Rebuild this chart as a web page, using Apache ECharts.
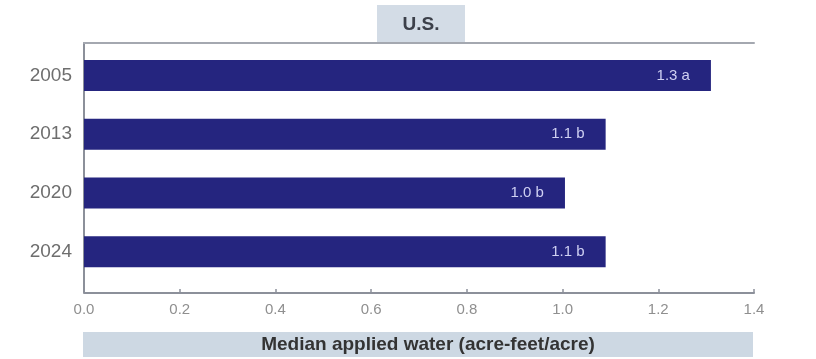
<!DOCTYPE html>
<html>
<head>
<meta charset="utf-8">
<script src="https://cdn.jsdelivr.net/npm/echarts@6/dist/echarts.min.js"></script>
<style>html,body{margin:0;padding:0;background:#fff}#c{width:816px;height:359px}</style>
</head>
<body>
<div id="c"></div>
<script>
const categories = ['2005', '2013', '2020', '2024'];
const values = [1.31, 1.09, 1.005, 1.09];
const valueLabels = ['1.3 a', '1.1 b', '1.0 b', '1.1 b'];
const xTicks = [0, 0.2, 0.4, 0.6, 0.8, 1.0, 1.2, 1.4];
const titleText = 'U.S.';
const axisTitle = 'Median applied water (acre-feet/acre)';

const FONT = '"Liberation Sans", Arial, sans-serif';
const chart = echarts.init(document.getElementById('c'));
chart.setOption({
  animation: false,
  grid: [
    { left: 84, right: 62, top: 46, bottom: 78 },
    { left: 84, right: 62, top: 43, bottom: 67 }
  ],
  xAxis: [
    {
      gridIndex: 0, type: 'value', position: 'bottom', offset: 12,
      min: xTicks[0], max: xTicks[xTicks.length - 1], interval: 0.2,
      axisLine: { show: true, lineStyle: { color: '#8c909a', width: 2 } },
      axisTick: { show: true, inside: true, length: 4, lineStyle: { color: '#8c909a', width: 1.5 } },
      axisLabel: { color: '#8f8f8f', fontFamily: FONT, fontSize: 15, margin: 9,
        formatter: v => v.toFixed(1) },
      splitLine: { show: false }
    },
    {
      gridIndex: 1, type: 'value', position: 'top', min: 0, max: 1,
      axisLine: { show: true, onZero: false, lineStyle: { color: '#a4a8b0', width: 2 } },
      axisTick: { show: false }, axisLabel: { show: false }, splitLine: { show: false }
    }
  ],
  yAxis: [
    {
      gridIndex: 0, type: 'category', data: categories, inverse: true,
      axisLine: { show: false }, axisTick: { show: false },
      axisLabel: { color: '#6e6e6e', fontFamily: FONT, fontSize: 19, margin: 12 }
    },
    {
      gridIndex: 1, type: 'value', min: 0, max: 1, position: 'left',
      axisLine: { show: true, onZero: false, lineStyle: { color: '#8c909a', width: 2 } },
      axisTick: { show: false }, axisLabel: { show: false }, splitLine: { show: false }
    }
  ],
  series: [{
    type: 'bar',
    xAxisIndex: 0, yAxisIndex: 0,
    data: values,
    barWidth: 31,
    itemStyle: { color: '#25257f' },
    label: {
      show: true, position: 'insideRight', distance: 21,
      color: '#cfd0f2', fontFamily: FONT, fontSize: 15,
      formatter: p => valueLabels[p.dataIndex]
    }
  }],
  graphic: [
    { type: 'rect', shape: { x: 377, y: 5, width: 88, height: 37 }, style: { fill: '#d3dce6' }, z: 1 },
    { type: 'text', x: 421, y: 25, style: { text: titleText, fill: '#3c404a', font: 'bold 19px ' + FONT, align: 'center', verticalAlign: 'middle' }, z: 2 },
    { type: 'rect', shape: { x: 83, y: 332, width: 670, height: 25 }, style: { fill: '#cdd8e3' }, z: 1 },
    { type: 'text', x: 428, y: 345, style: { text: axisTitle, fill: '#333', font: 'bold 19px ' + FONT, align: 'center', verticalAlign: 'middle' }, z: 2 }
  ]
});
</script>
</body>
</html>
